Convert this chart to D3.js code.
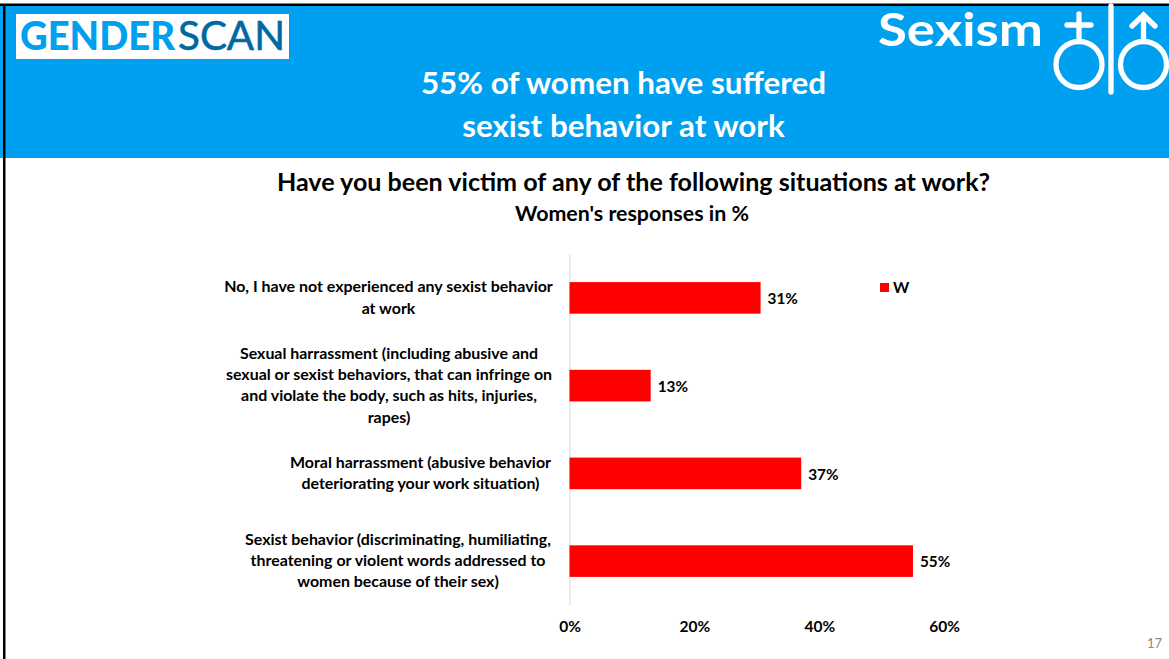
<!DOCTYPE html>
<html><head><meta charset="utf-8">
<script src="https://cdn.jsdelivr.net/npm/d3@7"></script>
<style>html,body{margin:0;padding:0;background:#fff;overflow:hidden}svg{display:block}text{font-family:Lato,"Open Sans",sans-serif;font-weight:700}</style>
</head><body><svg id="c" width="1169" height="659"></svg>
<script>
const categories = ["No, I have not experienced any sexist behavior at work","Sexual harrassment (including abusive and sexual or sexist behaviors, that can infringe on and violate the body, such as hits, injuries, rapes)","Moral harrassment (abusive behavior deteriorating your work situation)","Sexist behavior (discriminating, humiliating, threatening or violent words addressed to women because of their sex)"];
const categoryLines = [["No, I have not experienced any sexist behavior","at work"],["Sexual harrassment (including abusive and","sexual or sexist behaviors, that can infringe on","and violate the body, such as hits, injuries,","rapes)"],["Moral harrassment (abusive behavior","deteriorating your work situation)"],["Sexist behavior (discriminating, humiliating,","threatening or violent words addressed to","women because of their sex)"]];
const values = [30.6,13,37.1,55];
const valueLabels = ["31%","13%","37%","55%"];
const xTicks = [0,20,40,60];
const seriesName = "W";
const title = "Have you been victim of any of the following situations at work?";
const subtitle = "Women's responses in %";
const headline = ["55% of women have suffered","sexist behavior at work"];

const svg = d3.select("#c");
// page frame and banner
svg.append("rect").attr("x",0).attr("y",5).attr("width",1169).attr("height",153).attr("fill","#00A0F0");
svg.append("rect").attr("x",0).attr("y",3.5).attr("width",1169).attr("height",2.5).attr("fill","#000");
svg.append("rect").attr("x",3).attr("y",4).attr("width",2.5).attr("height",655).attr("fill","#000");
svg.append("rect").attr("x",16).attr("y",14).attr("width",273).attr("height",45).attr("fill","#fff");
svg.append("text").attr("x",20).attr("y",50).attr("font-size",40).attr("textLength",155).attr("lengthAdjust","spacingAndGlyphs")
  .attr("fill","#00A0F0").style("font-weight",900).text("GENDER");
svg.append("text").attr("x",178).attr("y",50).attr("font-size",40).attr("textLength",107).attr("lengthAdjust","spacingAndGlyphs")
  .attr("fill","#00699F").style("font-weight",400).attr("stroke","#00699F").attr("stroke-width",0.6).text("SCAN");
svg.append("text").attr("x",878).attr("y",46).attr("font-size",46.5).attr("textLength",165).attr("lengthAdjust","spacingAndGlyphs").attr("fill","#fff").text("Sexism");
// gender symbols
const sym = svg.append("g").attr("fill","none").attr("stroke","#fff").attr("stroke-width",5.3).attr("stroke-linecap","round");
sym.append("circle").attr("cx",1079).attr("cy",64.5).attr("r",23);
sym.append("line").attr("x1",1079).attr("x2",1079).attr("y1",14).attr("y2",41);
sym.append("line").attr("x1",1067).attr("x2",1091).attr("y1",25).attr("y2",25);
sym.append("line").attr("x1",1111).attr("x2",1111).attr("y1",6).attr("y2",92);
sym.append("circle").attr("cx",1143.5).attr("cy",64.5).attr("r",23);
sym.append("line").attr("x1",1143.5).attr("x2",1143.5).attr("y1",16).attr("y2",41);
sym.append("path").attr("d","M1132,26L1143.5,15L1155,26");

svg.selectAll("text.head").data(headline).join("text").attr("class","head")
  .attr("x",623.5).attr("y",(d,i)=>[94,137][i]).attr("text-anchor","middle").attr("font-size",31.4).attr("fill","#fff").text(d=>d);
svg.append("text").attr("x",633.5).attr("y",191).attr("text-anchor","middle").attr("font-size",25.1).attr("fill","#000").text(title);
svg.append("text").attr("x",632).attr("y",221).attr("text-anchor","middle").attr("font-size",21.4).attr("fill","#000").text(subtitle);

const x = d3.scaleLinear().domain([0,60]).range([569.5,944.2]);
const y = d3.scaleBand().domain(categories).range([254,605]).paddingInner(.64).paddingOuter(.32);

svg.append("g").attr("transform",`translate(${x(0)},0)`).call(d3.axisLeft(y).tickSize(0).tickFormat(""))
  .call(g=>g.select(".domain").attr("stroke","#D9D9D9").attr("stroke-width",1));
svg.append("g").attr("transform","translate(0,627)").call(d3.axisBottom(x).tickValues(xTicks).tickSize(0).tickFormat(d=>d+"%"))
  .call(g=>g.select(".domain").remove())
  .call(g=>g.selectAll("text").attr("y",0).attr("dy",".35em").attr("font-size",15.5).attr("fill","#000"));

svg.selectAll("rect.bar").data(values).join("rect").attr("class","bar")
  .attr("x",x(0)).attr("y",(d,i)=>y(categories[i])).attr("width",d=>x(d)-x(0)).attr("height",y.bandwidth()).attr("fill","#FF0000");
svg.selectAll("text.val").data(values).join("text").attr("class","val")
  .attr("x",d=>x(d)+7).attr("y",(d,i)=>y(categories[i])+y.bandwidth()/2+1).attr("dy",".35em").attr("font-size",15.3).attr("fill","#000")
  .text((d,i)=>valueLabels[i]);

categoryLines.forEach((lines,i)=>{
  const c = y(categories[i])+y.bandwidth()/2;
  svg.selectAll(null).data(lines).join("text")
    .attr("x",[388.5,389,420.5,398][i])
    .attr("y",(d,k)=>c+(k-(lines.length-1)/2)*21.2-0.5)
    .attr("dy",".35em").attr("text-anchor","middle").attr("font-size",15.95).attr("fill","#000").text(d=>d);
});
// legend
svg.append("rect").attr("x",880).attr("y",283).attr("width",9).attr("height",9).attr("fill","#FF0000");
svg.append("text").attr("x",893).attr("y",288).attr("dy",".35em").attr("font-size",15.5).attr("fill","#000").text(seriesName);
// page number
svg.append("text").attr("x",1147).attr("y",648).attr("font-size",13).attr("fill","#8a8a8a").style("font-weight",400).text("17");
</script></body></html>
